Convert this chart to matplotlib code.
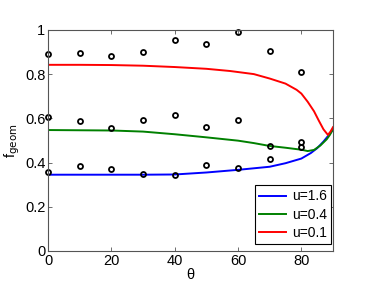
import numpy as np
import matplotlib
matplotlib.use("Agg")
import matplotlib.pyplot as plt

plt.rcParams['font.family'] = ['Liberation Sans', 'DejaVu Sans']

# measured points (open circles)
theta_pts = [0, 10, 20, 30, 40, 50, 60, 70, 80]
f_top = [0.891, 0.896, 0.882, 0.899, 0.956, 0.935, 0.991, 0.903, 0.811]
f_mid = [0.605, 0.590, 0.557, 0.594, 0.614, 0.563, 0.593, 0.475, 0.495]
f_low = [0.359, 0.385, 0.373, 0.348, 0.345, 0.388, 0.376, 0.416, 0.472]

# model curves
theta_blue = [0, 10, 20, 30, 40, 50, 60, 70, 75, 80, 83, 85, 87, 89, 90]
f_blue = [0.345, 0.345, 0.345, 0.345, 0.346, 0.355, 0.367, 0.381, 0.397,
          0.418, 0.443, 0.465, 0.495, 0.530, 0.550]

theta_green = [0, 10, 20, 30, 40, 50, 60, 65, 70, 75, 80, 82, 84, 86, 88, 89, 90]
f_green = [0.547, 0.546, 0.545, 0.540, 0.528, 0.514, 0.499, 0.488, 0.475,
           0.467, 0.458, 0.452, 0.457, 0.477, 0.505, 0.525, 0.550]

theta_red = [0, 10, 20, 30, 40, 50, 57.5, 65, 70, 75, 78.5, 80, 82, 84,
             85.5, 87, 88.4, 89.2, 90]
f_red = [0.842, 0.842, 0.841, 0.838, 0.832, 0.824, 0.814, 0.800, 0.780,
         0.757, 0.729, 0.712, 0.675, 0.632, 0.590, 0.550, 0.525, 0.540, 0.560]

fig = plt.figure(figsize=(3.7, 2.82), dpi=100)
ax = fig.add_axes([0.13, 0.11, 0.77, 0.784])

ax.plot(theta_blue, f_blue, color='#0000ff', lw=1.4, label='u=1.6')
ax.plot(theta_green, f_green, color='#008000', lw=1.4, label='u=0.4')
ax.plot(theta_red, f_red, color='#ff0000', lw=1.4, label='u=0.1')

for row in (f_top, f_mid, f_low):
    ax.plot(theta_pts, row, 'o', mfc='none', mec='black', ms=3.6, mew=1.3,
            linestyle='none', clip_on=False)

ax.set_xlim(0, 90)
ax.set_ylim(0, 1)
ax.set_xticks([0, 20, 40, 60, 80])
ax.set_yticks([0, 0.2, 0.4, 0.6, 0.8, 1])
ax.set_yticklabels(['0', '0.2', '0.4', '0.6', '0.8', '1'])
ax.tick_params(direction='in', top=True, right=True, length=3, width=0.6,
               color='#555555', labelsize=10.5, pad=2)
for s in ax.spines.values():
    s.set_color('#555555')
    s.set_linewidth(0.8)

ax.set_xlabel('θ', fontsize=10.5, labelpad=0)
ax.set_ylabel(r'f$_{\rm geom}$', fontsize=10.5, labelpad=2)

leg = ax.legend(loc='lower right', bbox_to_anchor=(331 / 370, 38 / 282),
                bbox_transform=fig.transFigure, fontsize=10, fancybox=False,
                edgecolor='black', framealpha=1, handlelength=1.95,
                borderaxespad=0, labelspacing=0.3, borderpad=0.3,
                handletextpad=0.4)
leg.get_frame().set_linewidth(0.8)

fig.savefig('out.png', dpi=100)
